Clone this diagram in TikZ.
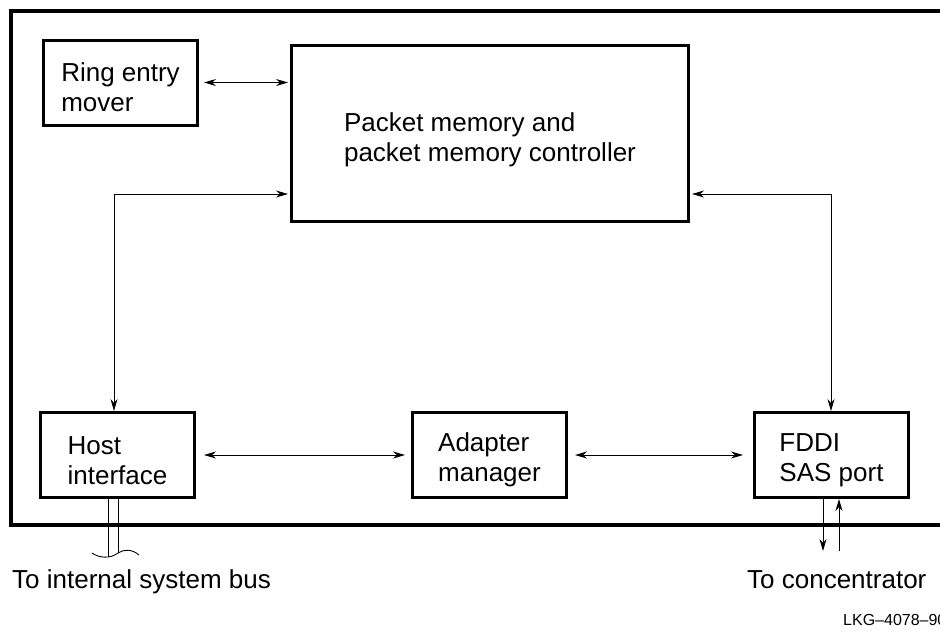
\documentclass[tikz,border=0pt]{standalone}
\usepackage{fontspec}
\setmainfont{Liberation Sans}
\usepackage{tikz}
\usetikzlibrary{positioning, arrows.meta}

\newcommand{\topstrut}{\rule{0pt}{29pt}}

\begin{document}
\begin{tikzpicture}[
    x=1pt, y=-1pt,
    node distance=200pt,
    box/.style={
        draw,
        line width=3pt,
        minimum width=154pt,
        minimum height=85pt,
        align=left,
        font=\fontsize{26}{30}\selectfont
    },
    link/.style={line width=0.9pt, {Stealth[length=12pt,width=7pt]}-{Stealth[length=12pt,width=7pt]}},
    oneway/.style={line width=0.9pt, -{Stealth[length=12pt,width=7pt]}},
    bus/.style={line width=0.9pt},
    frame/.style={line width=4pt},
    note/.style={anchor=base west, inner sep=0pt, font=\fontsize{26}{30}\selectfont}
]
\useasboundingbox (0,0) rectangle (940,630);

% outer frame, open to the right
\draw[frame] (11,11) rectangle (980,525);

\node[box] (ring) at (120.5,82.5) {\topstrut Ring entry\\mover};
\node[box, minimum width=397pt, minimum height=176pt] (pkt) at (490,133.5)
    {\rule{0pt}{32pt}Packet memory and\\packet memory controller};

\node[box] (host) at (117.5,455) {\topstrut Host\\interface};
\node[box] (adapt) [right=215pt of host] {\topstrut Adapter\\manager};
\node[box] (fddi) [right=185pt of adapt] {\topstrut FDDI\\SAS port};

\coordinate (hbend) at (114,194);
\coordinate (fbend) at (831,194);

\draw[link, shorten <=5pt, shorten >=2pt] (ring.east) -- (ring.east -| pkt.west);
\draw[link, shorten >=2pt] (hbend |- host.north) -- (hbend) -- (hbend -| pkt.west);
\draw[link, shorten >=2pt] (fbend |- fddi.north) -- (fbend) -- (fbend -| pkt.east);
\draw[link, shorten <=8pt, shorten >=6pt] (host) -- (adapt);
\draw[link, shorten <=7pt, shorten >=10pt] (adapt) -- (fddi);

% bus to the system
\coordinate (busl) at (108,557);
\coordinate (busr) at (118,553);
\draw[bus] (busl |- host.south) -- (busl);
\draw[bus] (busr |- host.south) -- (busr);
\draw[bus] (92,553) .. controls (99,558) and (110,559) .. (118,553)
    .. controls (124,549) and (132,549) .. (139,555);

% ring to the concentrator
\coordinate (cdown) at (823,551);
\coordinate (cup) at (839,551);
\draw[oneway] (cdown |- fddi.south) -- (cdown);
\draw[oneway] (cup) -- (cup |- fddi.south);

\node[note] (tobus) at (12,588) {To internal system bus};
\node[note] (toconc) at (747,588) {To concentrator};
\node[note, font=\fontsize{16}{18}\selectfont] (figid) at (843,625) {LKG--4078--90};

\end{tikzpicture}
\end{document}
